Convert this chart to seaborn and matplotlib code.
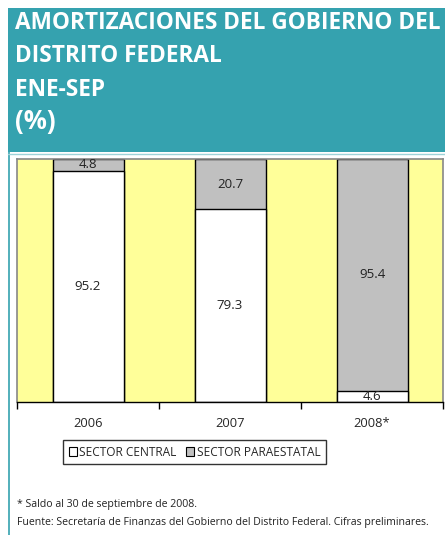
import numpy as np
import pandas as pd
import seaborn as sns
import matplotlib.pyplot as plt
from matplotlib.patches import Rectangle, Patch
from matplotlib.lines import Line2D

years = ["2006", "2007", "2008*"]
central = [95.2, 79.3, 4.6]
paraestatal = [4.8, 20.7, 95.4]
title_lines = ["AMORTIZACIONES DEL GOBIERNO DEL", "DISTRITO FEDERAL", "ENE-SEP", "(%)"]
notes = ["* Saldo al 30 de septiembre de 2008.",
         "Fuente: Secretaría de Finanzas del Gobierno del Distrito Federal. Cifras preliminares."]

teal = "#35a2af"
yellow = "#ffff99"
grey = "#c0c0c0"

sns.set_style("white")
plt.rcParams['font.family'] = ['Open Sans', 'DejaVu Sans']

df = pd.DataFrame({"year": years, "central": central, "para": paraestatal})
df["total"] = df["central"] + df["para"]

W, H = 445, 535
fig = plt.figure(figsize=(W/100, H/100), dpi=100)

# header
fig.patches.append(Rectangle((8/W, 1-152/H), 1-8/W, 144/H, transform=fig.transFigure,
                             facecolor=teal, edgecolor='none', zorder=0))
fig.lines.append(Line2D([8.5/W, 8.5/W], [0, 1-152/H], transform=fig.transFigure, color=teal, lw=1.2))
fig.lines.append(Line2D([8/W, 1], [1-153.5/H, 1-153.5/H], transform=fig.transFigure, color="#9fd3d9", lw=1))
for i, t in enumerate(title_lines):
    fig.text(15/W, 1-(29+33.3*i)/H, t, color='white', fontsize=16.3 if i < 3 else 18.5,
             fontweight='bold', va='baseline', ha='left')

ax = fig.add_axes([17/W, 133/H, 426/W, 243/H])
ax.set_facecolor(yellow)
sns.barplot(data=df, x="year", y="total", color=grey, width=0.5, edgecolor='black',
            linewidth=1, saturation=1, ax=ax)
sns.barplot(data=df, x="year", y="central", color='white', width=0.5, edgecolor='black',
            linewidth=1, saturation=1, ax=ax)

# value labels
for i in range(len(years)):
    ax.text(i, central[i]/2, f"{central[i]:.1f}", ha='center', va='center', fontsize=9.5, color='#222222')
    ax.text(i, central[i] + paraestatal[i]/2, f"{paraestatal[i]:.1f}", ha='center', va='center',
            fontsize=9.5, color='#222222')

ax.set_xlim(-0.5, 2.5)
ax.set_ylim(0, 100)
ax.set_yticks([])
ax.set_xlabel("")
ax.set_ylabel("")
ax.set_xticks(range(3))
ax.set_xticklabels(years, fontsize=9.3)
ax.set_xticks([-0.5, 0.5, 1.5, 2.5], minor=True)
ax.tick_params(axis='x', which='both', bottom=True)
ax.tick_params(axis='x', which='major', length=0, pad=11)
ax.tick_params(axis='x', which='minor', length=5, width=1, color='black', direction='out')
for s in ['left', 'top', 'right']:
    ax.spines[s].set_color('#888888')
    ax.spines[s].set_linewidth(1.2)
ax.spines['bottom'].set_color('black')
ax.spines['bottom'].set_linewidth(1)

handles = [Patch(facecolor='white', edgecolor='black', lw=0.8),
           Patch(facecolor=grey, edgecolor='black', lw=0.8)]
leg = fig.legend(handles, ["SECTOR CENTRAL", "SECTOR PARAESTATAL"], ncol=2,
                 loc='center', bbox_to_anchor=(194.5/W, 1-452/H), fontsize=8.6, frameon=True,
                 fancybox=False, edgecolor='black', handlelength=0.7, handleheight=0.7,
                 handletextpad=0.2, columnspacing=0.8, borderpad=0.45)
leg.get_frame().set_linewidth(1)

fig.text(17/W, 1-505/H, notes[0], fontsize=7.6, va='center', ha='left', color='#222222')
fig.text(17/W, 1-523/H, notes[1], fontsize=7.6, va='center', ha='left', color='#222222')

fig.savefig("out.png", dpi=100)
